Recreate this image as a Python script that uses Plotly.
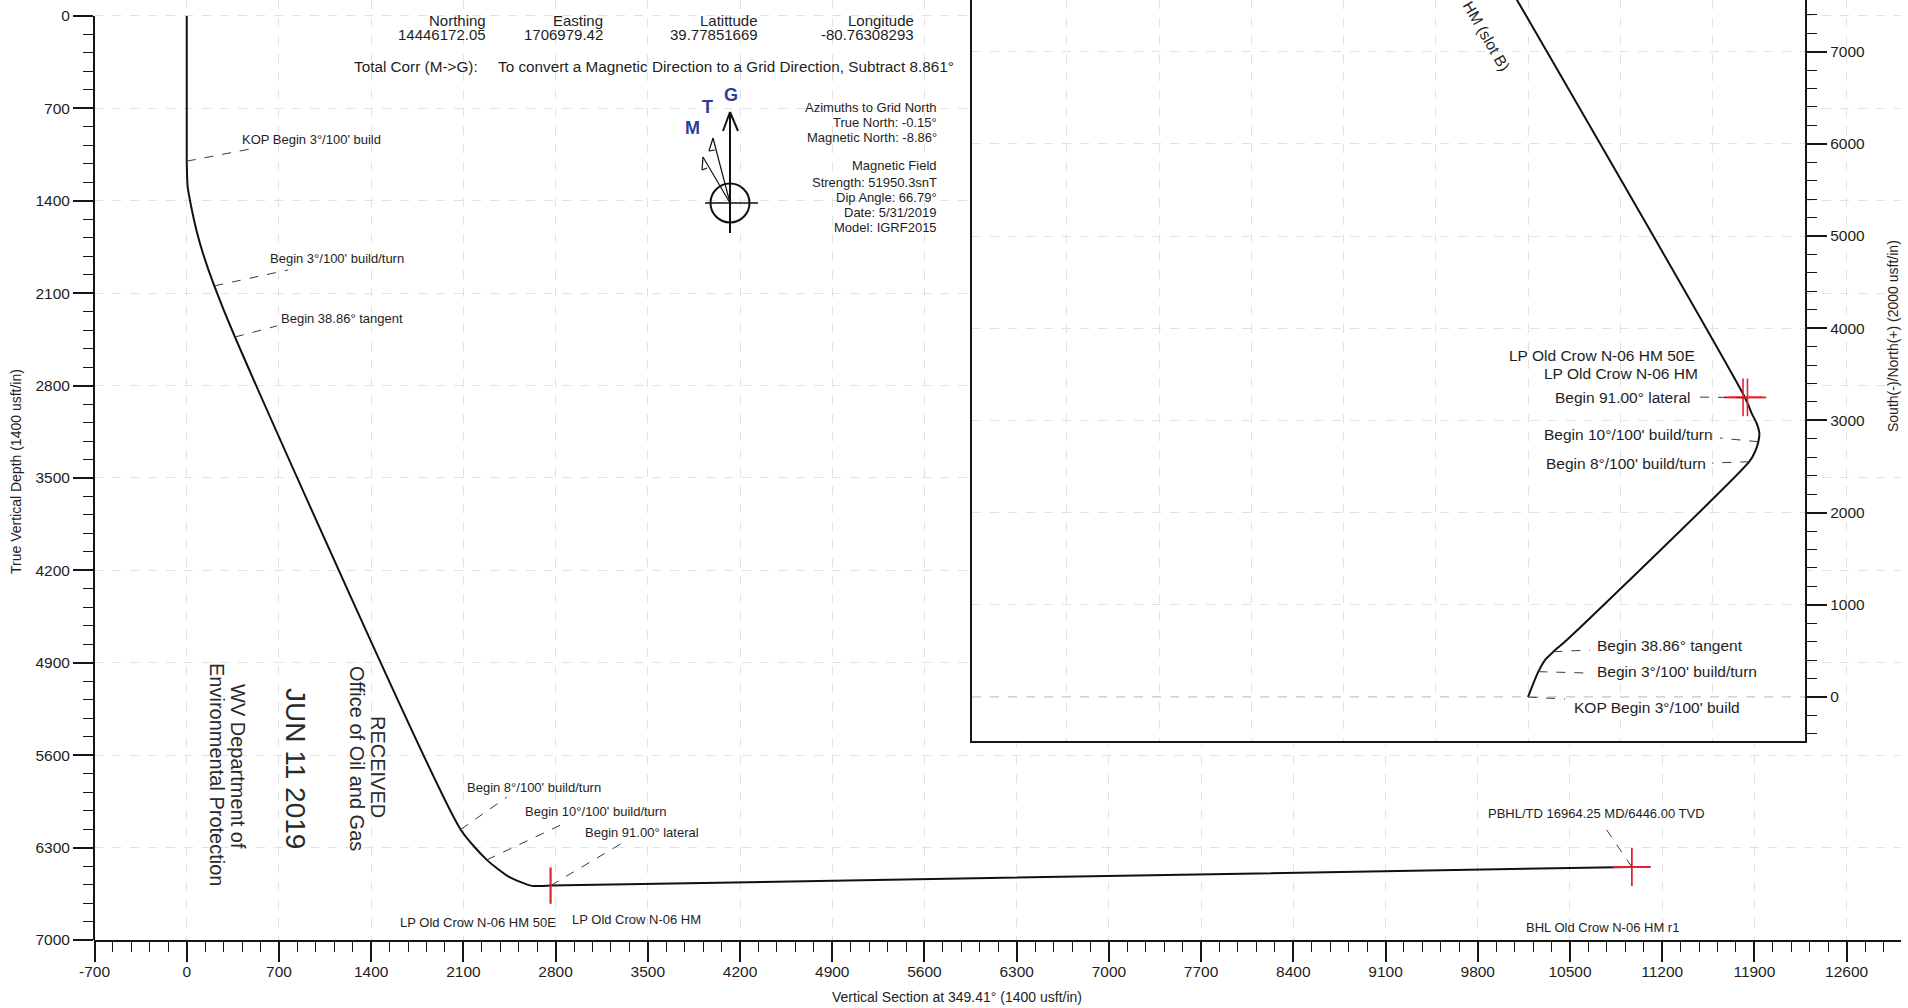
import plotly.graph_objects as go

# ------------------------------------------------------------------
# Values (usft)
# ------------------------------------------------------------------
# Section view: Vertical Section at 349.41 deg vs True Vertical Depth
vs_ft = [0, 0, 7, 34, 73, 123, 209, 366, 2079, 2278, 2443, 2620, 2762, 10970]
tvd_ft = [0, 1100, 1293, 1445, 1621, 1798, 2045, 2432, 6163, 6393, 6520, 6590, 6588, 6447]

# Plan view (inset): West(-)/East(+) vs South(-)/North(+)
ew_ft = [0, 58, 112, 184, 275, 420, 2400, 2462, 2498, 2509, 2480, 2426, 2354, -157]
ns_ft = [0, 148, 275, 401, 491, 618, 2552, 2660, 2769, 2860, 2968, 3077, 3246, 7625]

# Targets
lp_target_vs = [2762]
lp_target_tvd = [6588]
bhl_target_vs = [10970]
bhl_target_tvd = [6447]
plan_target_ew = [2332, 2380]
plan_target_ns = [3250, 3250]

# Tick values / labels
vs_ticks = [-700, 0, 700, 1400, 2100, 2800, 3500, 4200, 4900, 5600, 6300, 7000,
            7700, 8400, 9100, 9800, 10500, 11200, 11900, 12600]
tvd_ticks = [0, 700, 1400, 2100, 2800, 3500, 4200, 4900, 5600, 6300, 7000]
ns_ticks = [0, 1000, 2000, 3000, 4000, 5000, 6000, 7000]
ew_grid = [-5000, -4000, -3000, -2000, -1000, 0, 1000, 2000, 3000]

# Section-view labels
sec_label_text = ["KOP Begin 3°/100' build", "Begin 3°/100' build/turn", "Begin 38.86° tangent",
                  "Begin 8°/100' build/turn", "Begin 10°/100' build/turn", "Begin 91.00° lateral",
                  "LP Old Crow N-06 HM 50E", "LP Old Crow N-06 HM",
                  "PBHL/TD 16964.25 MD/6446.00 TVD", "BHL Old Crow N-06 HM r1"]
sec_label_vs = [404, 617, 699, 2112, 2553, 3008, 1603, 2911, 11540, 10151]
sec_label_tvd = [939, 1841, 2295, 5841, 6030, 6182, 6871, 6848, 6038, 6909]
sec_label_anchor = ['left', 'left', 'left', 'left', 'left', 'left', 'left', 'left', 'right', 'left']
sec_label_station = [1, 6, 7, 8, 9, 12, None, None, 13, None]
sec_leader_vs = [481, 769, 685, 2431, 2887, 3306, None, None, 10743, None]
sec_leader_tvd = [1008, 1924, 2348, 5917, 6106, 6265, None, None, 6114, None]

# Plan-view labels
plan_label_text = ["LP Old Crow N-06 HM 50E", "LP Old Crow N-06 HM", "Begin 91.00° lateral",
                   "Begin 10°/100' build/turn", "Begin 8°/100' build/turn", "Begin 38.86° tangent",
                   "Begin 3°/100' build/turn", "KOP Begin 3°/100' build"]
plan_label_ew = [1833, 1866, 1779, 2028, 1952, 727, 727, 477]
plan_label_ns = [3709, 3514, 3254, 2842, 2538, 564, 282, -119]
plan_label_anchor = ['right', 'right', 'right', 'right', 'right', 'left', 'left', 'left']
plan_label_station = [None, None, 12, 8, 6, 4, 2, 0]
plan_leader_ew = [None, None, 1815, 2082, 1996, 672, 651, 401]
plan_leader_ns = [None, None, 3254, 2809, 2538, 510, 260, -22]

# Header information
header_titles = ["Northing", "Easting", "Latittude", "Longitude"]
header_values = ["14446172.05", "1706979.42", "39.77851669", "-80.76308293"]
info_lines = ["Azimuths to Grid North", "True North: -0.15°", "Magnetic North: -8.86°", "",
              "Magnetic Field", "Strength: 51950.3snT", "Dip Angle: 66.79°",
              "Date: 5/31/2019", "Model: IGRF2015"]

# ------------------------------------------------------------------
# Layout geometry
# ------------------------------------------------------------------
W, H = 1908, 1008
L, R, T, B = 94, 7, 0, 68
PW, PH = W - L - R, H - T - B

FONT = "Liberation Sans, Arial, Helvetica, sans-serif"
TXT = "#1e1e1e"
AX = "#161616"
GRID = "#e2e2e2"
RED = "#e3232c"
BLUE = "#2c3c9e"


def px(x):
    return (x - L) / PW


def py(y):
    return (H - B - y) / PH


main_xrange = [-704, 13013]
main_yrange = [7000, -121]
inset_xrange = [-6030, 3004]
inset_yrange = [-477, 7560]

fig = go.Figure()

# Section view trajectory
fig.add_trace(go.Scatter(x=vs_ft, y=tvd_ft, mode='lines', xaxis='x', yaxis='y',
                         line=dict(color='#111111', width=2, shape='spline', smoothing=0.6),
                         hoverinfo='skip'))
fig.add_trace(go.Scatter(x=lp_target_vs, y=lp_target_tvd, mode='markers', xaxis='x', yaxis='y',
                         marker=dict(symbol='line-ns', size=26, line=dict(color=RED, width=2.2)),
                         hoverinfo='skip'))
fig.add_trace(go.Scatter(x=bhl_target_vs, y=bhl_target_tvd, mode='markers', xaxis='x', yaxis='y',
                         marker=dict(symbol='cross-thin', size=27, line=dict(color=RED, width=1.8)),
                         hoverinfo='skip'))

# Plan view trajectory (inset)
fig.add_trace(go.Scatter(x=ew_ft, y=ns_ft, mode='lines', xaxis='x2', yaxis='y2',
                         line=dict(color='#111111', width=2, shape='spline', smoothing=0.6),
                         hoverinfo='skip'))
fig.add_trace(go.Scatter(x=plan_target_ew, y=plan_target_ns, mode='markers', xaxis='x2', yaxis='y2',
                         marker=dict(symbol='cross-thin', size=27, line=dict(color=RED, width=1.6)),
                         hoverinfo='skip'))

shapes = []
# white panel behind the inset (hides the main grid)
shapes.append(dict(type='rect', xref='x2', yref='y2', x0=inset_xrange[0], x1=inset_xrange[1],
                   y0=inset_yrange[0], y1=inset_yrange[1], fillcolor='white',
                   line=dict(width=0), layer='below'))
# dashed zero line in the inset
shapes.append(dict(type='line', xref='x2', yref='y2', x0=inset_xrange[0], x1=inset_xrange[1],
                   y0=0, y1=0, line=dict(color='#a8a8a8', width=1.2, dash='dash'), layer='below'))
# main left axis line from 0 to 7000
shapes.append(dict(type='line', xref='x domain', yref='y', x0=0, x1=0,
                   y0=tvd_ticks[0], y1=tvd_ticks[-1], line=dict(color=AX, width=2)))

annotations = []


def ann(text, x, y, xref='paper', yref='paper', size=13, xanchor='left', yanchor='middle',
        angle=0, color=TXT, bold=False):
    t = f"<b>{text}</b>" if bold else text
    annotations.append(dict(text=t, x=x, y=y, xref=xref, yref=yref, showarrow=False,
                            xanchor=xanchor, yanchor=yanchor, textangle=angle,
                            font=dict(family=FONT, size=size, color=color)))


# section labels + leaders
for i, txt in enumerate(sec_label_text):
    ann(txt, sec_label_vs[i], sec_label_tvd[i], 'x', 'y', 13, sec_label_anchor[i])
    s = sec_label_station[i]
    if s is not None:
        shapes.append(dict(type='line', xref='x', yref='y', x0=vs_ft[s], y0=tvd_ft[s],
                           x1=sec_leader_vs[i], y1=sec_leader_tvd[i],
                           line=dict(color='#3a3a3a', width=1, dash='dash'), layer='above'))

# plan labels + leaders
for i, txt in enumerate(plan_label_text):
    ann(txt, plan_label_ew[i], plan_label_ns[i], 'x2', 'y2', 15.5, plan_label_anchor[i])
    s = plan_label_station[i]
    if s is not None:
        shapes.append(dict(type='line', xref='x2', yref='y2', x0=ew_ft[s], y0=ns_ft[s],
                           x1=plan_leader_ew[i], y1=plan_leader_ns[i],
                           line=dict(color='#3a3a3a', width=1, dash='dash'), layer='above'))

ann("HM (slot B)", -445, 7169, 'x2', 'y2', 15.5, 'center', 'middle', angle=60)

# header
header_right = [488, 605, 760, 916]
for i in range(4):
    ann(header_titles[i], px(header_right[i]), py(20), size=15, xanchor='right')
    ann(header_values[i], px(header_right[i]), py(34), size=15, xanchor='right')
ann("Total Corr (M->G):", px(352), py(67), size=15.3, xanchor='left')
ann("To convert a Magnetic Direction to a Grid Direction, Subtract 8.861°", px(496), py(67),
    size=15.3, xanchor='left')

info_y = [107, 122, 137, 0, 166, 182, 197, 212, 227]
for i, line in enumerate(info_lines):
    if line:
        ann(line, px(939), py(info_y[i]), size=13, xanchor='right')

# compass symbol
ann("M", px(692), py(128), size=18, xanchor='center', color=BLUE, bold=True)
ann("T", px(707), py(107), size=18, xanchor='center', color=BLUE, bold=True)
ann("G", px(731), py(95), size=18, xanchor='center', color=BLUE, bold=True)


def seg(x0, y0, x1, y1, w=1.6):
    shapes.append(dict(type='line', xref='paper', yref='paper', x0=px(x0), y0=py(y0),
                       x1=px(x1), y1=py(y1), line=dict(color='#111111', width=w), layer='above'))


seg(730, 112, 730, 233, 2)
seg(723, 131, 730, 112, 2)
seg(738, 131, 730, 112, 2)
seg(705, 203, 758, 203, 1.6)
seg(730, 203, 713, 138, 1.2)
seg(730, 203, 703, 157, 1.2)
seg(713, 138, 709, 151, 1.2)
seg(709, 151, 715, 150, 1.2)
seg(703, 157, 702, 170, 1.2)
seg(702, 170, 707, 168, 1.2)
shapes.append(dict(type='circle', xref='paper', yref='paper', x0=px(710.5), x1=px(749.5),
                   y0=py(222.5), y1=py(183.5), line=dict(color='#111111', width=2), layer='above'))

# received stamp
ann("RECEIVED", px(378), py(767), size=20, xanchor='center', angle=90, color='#2a2a2a')
ann("Office of Oil and Gas", px(357), py(758), size=20, xanchor='center', angle=90, color='#2a2a2a')
ann("JUN 11 2019", px(296), py(768), size=28, xanchor='center', angle=90, color='#2a2a2a')
ann("WV Department of", px(238), py(766), size=20, xanchor='center', angle=90, color='#2a2a2a')
ann("Environmental Protection", px(217), py(774), size=20, xanchor='center', angle=90, color='#2a2a2a')

# axis titles
ann("True Vertical Depth (1400 usft/in)", px(16), py(472), size=14, xanchor='center', angle=-90)
ann("Vertical Section at 349.41° (1400 usft/in)", px(957), py(997), size=14, xanchor='center')
ann("South(-)/North(+) (2000 usft/in)", px(1893), py(336), size=14, xanchor='center', angle=-90)

tickfont = dict(family=FONT, size=15.5, color=TXT)

fig.update_layout(
    width=W, height=H,
    margin=dict(l=L, r=R, t=T, b=B, pad=0),
    paper_bgcolor='white', plot_bgcolor='white',
    showlegend=False,
    xaxis=dict(domain=[0, 1], range=main_xrange, anchor='y',
               tickmode='array', tickvals=vs_ticks, ticktext=[str(v) for v in vs_ticks],
               ticks='outside', ticklen=20, tickwidth=1.5, tickcolor=AX,
               ticklabelstandoff=-4,
               showline=True, linecolor=AX, linewidth=2, zeroline=False,
               showgrid=True, gridcolor=GRID, griddash='dash', gridwidth=1,
               minor=dict(tickmode='linear', tick0=0, dtick=140, ticks='outside', ticklen=10,
                          tickwidth=1.2, tickcolor=AX, showgrid=False),
               tickfont=tickfont),
    yaxis=dict(domain=[0, 1], range=main_yrange, anchor='x',
               tickmode='array', tickvals=tvd_ticks, ticktext=[str(v) for v in tvd_ticks],
               ticks='outside', ticklen=20, tickwidth=1.5, tickcolor=AX,
               showline=False, zeroline=False,
               showgrid=True, gridcolor=GRID, griddash='dash', gridwidth=1,
               minor=dict(tickmode='linear', tick0=0, dtick=140, ticks='outside', ticklen=10,
                          tickwidth=1.2, tickcolor=AX, showgrid=False),
               tickfont=tickfont),
    xaxis2=dict(domain=[px(972), px(1805)], range=inset_xrange, anchor='y2',
                tickmode='array', tickvals=ew_grid, showticklabels=False, ticks='',
                showline=True, linecolor=AX, linewidth=2.2, mirror=False, zeroline=False,
                showgrid=True, gridcolor=GRID, griddash='dash', gridwidth=1),
    yaxis2=dict(domain=[py(741), 1], range=inset_yrange, anchor='x2', side='right',
                tickmode='array', tickvals=ns_ticks, ticktext=[str(v) for v in ns_ticks],
                ticks='outside', ticklen=20, tickwidth=1.5, tickcolor=AX,
                showline=True, linecolor=AX, linewidth=2.2, mirror=True, zeroline=False,
                showgrid=True, gridcolor=GRID, griddash='dash', gridwidth=1,
                minor=dict(tickmode='linear', tick0=0, dtick=200, ticks='outside', ticklen=10,
                           tickwidth=1.2, tickcolor=AX, showgrid=False),
                tickfont=tickfont),
    shapes=shapes,
    annotations=annotations,
)

fig.write_html("out.html", config={'displayModeBar': False},
               post_script="document.body.style.margin='0px';document.body.style.overflow='hidden';")
